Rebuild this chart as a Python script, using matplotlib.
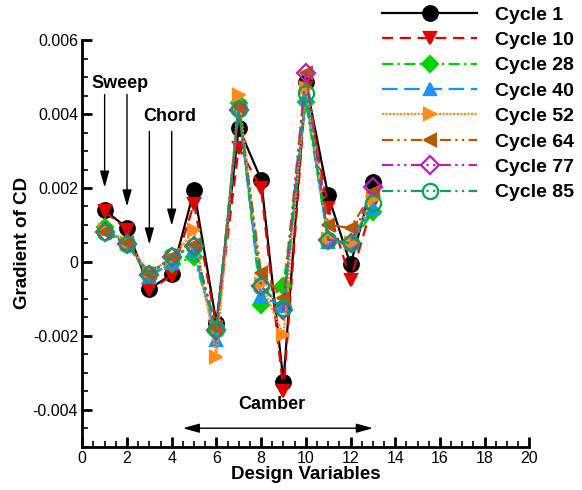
import matplotlib
matplotlib.use("Agg")
import matplotlib.pyplot as plt
from matplotlib.ticker import MultipleLocator, FuncFormatter

plt.rcParams['font.family'] = ['Liberation Sans', 'DejaVu Sans']

design_vars = list(range(1, 14))

cycle_labels = ["Cycle 1", "Cycle 10", "Cycle 28", "Cycle 40",
                "Cycle 52", "Cycle 64", "Cycle 77", "Cycle 85"]

cycle_1 = [0.00140, 0.00092, -0.00073, -0.00034, 0.00194, -0.00165, 0.00363,
           0.00223, -0.00324, 0.00487, 0.00180, -0.00007, 0.00216]
cycle_10 = [0.00137, 0.00087, -0.00077, -0.00037, 0.00158, -0.00175, 0.00309,
            0.00200, -0.00350, 0.00470, 0.00146, -0.00048, 0.00160]
cycle_28 = [0.00095, 0.00050, -0.00035, -0.00005, 0.00012, -0.00190, 0.00430,
            -0.00116, -0.00066, 0.00432, 0.00060, 0.00050, 0.00134]
cycle_40 = [0.00090, 0.00050, -0.00040, -0.00002, 0.00030, -0.00210, 0.00420,
            -0.00093, -0.00120, 0.00450, 0.00055, 0.00050, 0.00147]
cycle_52 = [0.00085, 0.00052, -0.00028, 0.00010, 0.00085, -0.00256, 0.00453,
            -0.00060, -0.00197, 0.00470, 0.00062, 0.00050, 0.00170]
cycle_64 = [0.00080, 0.00050, -0.00032, 0.00012, 0.00045, -0.00180, 0.00420,
            -0.00030, -0.00097, 0.00510, 0.00100, 0.00092, 0.00190]
cycle_77 = [0.00080, 0.00048, -0.00035, 0.00012, 0.00044, -0.00185, 0.00412,
            -0.00066, -0.00130, 0.00512, 0.00060, 0.00050, 0.00202]
cycle_85 = [0.00082, 0.00049, -0.00034, 0.00015, 0.00044, -0.00182, 0.00415,
            -0.00066, -0.00125, 0.00458, 0.00060, 0.00051, 0.00160]

series = [cycle_1, cycle_10, cycle_28, cycle_40, cycle_52, cycle_64, cycle_77, cycle_85]

styles = [
    dict(color="black", marker="o", ms=10.5, mfc="black", dashes=()),
    dict(color="#e00000", marker="v", ms=9, mfc="#e00000", dashes=(5, 3)),
    dict(color="#00d000", marker="D", ms=8, mfc="#00d000", dashes=(5, 2, 1, 2)),
    dict(color="#1e90ff", marker="^", ms=9, mfc="#1e90ff", dashes=(7, 3)),
    dict(color="#ff8c1a", marker=">", ms=9, mfc="#ff8c1a", dashes=(1, 0.6)),
    dict(color="#b35a00", marker="<", ms=9, mfc="#b35a00", dashes=(5, 2, 1, 2, 1, 2)),
    dict(color="#b820b8", marker="D", ms=9, mfc="none", dashes=(5, 2, 1, 2, 1, 2)),
    dict(color="#00a651", marker="o", ms=11, mfc="none", dashes=(5, 2, 1, 2, 1, 2)),
]

fig = plt.figure(figsize=(5.82, 4.90), dpi=100)
ax = fig.add_axes([0.1414, 0.0884, 0.7681, 0.8296])

for vals, lab, st in zip(series, cycle_labels, styles):
    ln, = ax.plot(design_vars, vals, color=st["color"], lw=1.6,
                  marker=st["marker"], ms=st["ms"], mfc=st["mfc"],
                  mec=st["color"], mew=1.6, label=lab)
    if st["dashes"]:
        ln.set_dashes(st["dashes"])

ax.set_xlim(0, 20)
ax.set_ylim(-0.005, 0.006)

ax.xaxis.set_major_locator(MultipleLocator(2))
ax.xaxis.set_minor_locator(MultipleLocator(0.5))
ax.yaxis.set_major_locator(MultipleLocator(0.002))
ax.yaxis.set_minor_locator(MultipleLocator(0.0005))


def fmt_y(v, pos):
    if abs(v) < 1e-12:
        return "0"
    return f"{v:.3f}"


ax.yaxis.set_major_formatter(FuncFormatter(fmt_y))

for side in ("top", "right"):
    ax.spines[side].set_visible(False)
for side in ("left", "bottom"):
    ax.spines[side].set_linewidth(2)

ax.tick_params(which="major", direction="in", length=7, width=2, labelsize=11.5, pad=3)
ax.tick_params(which="minor", direction="in", length=4, width=1.2)

ax.set_xlabel("Design Variables", fontsize=13.5, fontweight="bold", labelpad=0)
ax.set_ylabel("Gradient of CD", fontsize=13.5, fontweight="bold", labelpad=1)

# Region annotations
ax.text(1.7, 0.00483, "Sweep", fontsize=13, fontweight="bold", ha="center", va="center")
ax.text(3.9, 0.00393, "Chord", fontsize=13, fontweight="bold", ha="center", va="center")
ax.text(8.5, -0.00385, "Camber", fontsize=13, fontweight="bold", ha="center", va="center")

arrow_props = dict(arrowstyle="-|>,head_length=1.0,head_width=0.28", color="black",
                   lw=1.0, shrinkA=0, shrinkB=0)
for xa, y0, y1 in [(1, 0.00453, 0.00201), (2, 0.00453, 0.00150),
                   (3, 0.00353, 0.00047), (4, 0.00353, 0.00098)]:
    ax.annotate("", xy=(xa, y1), xytext=(xa, y0), arrowprops=arrow_props)

ax.annotate("", xy=(13.0, -0.0045), xytext=(4.5, -0.0045),
            arrowprops=dict(arrowstyle="<|-|>,head_length=1.0,head_width=0.28",
                            color="black", lw=1.0, shrinkA=0, shrinkB=0))

leg = fig.legend(loc="upper left", bbox_to_anchor=(382 / 582, 1 - 6 / 490),
                 bbox_transform=fig.transFigure, frameon=False,
                 prop=dict(size=14, weight="bold"), handlelength=4.9,
                 handletextpad=0.9, labelspacing=0.4, borderpad=0,
                 borderaxespad=0)

fig.savefig("out.png", dpi=100)
